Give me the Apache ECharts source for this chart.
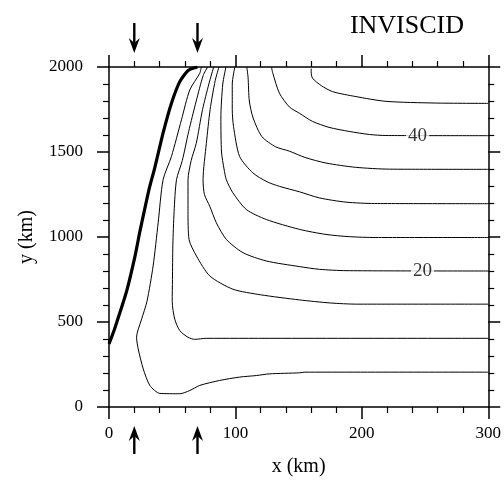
<!DOCTYPE html>
<html>
<head>
<meta charset="utf-8">
<script src="https://cdn.jsdelivr.net/npm/echarts@6/dist/echarts.min.js"></script>
<style>html,body{margin:0;padding:0;background:#fff;}#chart{width:504px;height:482px;}</style>
</head>
<body>
<div id="chart"></div>
<script>
// ---- data (x km, y km) ----
const titleText = 'INVISCID';
const xName = 'x (km)';
const yName = 'y (km)';
const xRange = [0, 300];
const yRange = [0, 2000];

// thick boundary line
const thickLine = [[0,371],[4,450],[8.7,557],[13.9,680],[20.5,885],[24.5,1035],[28.4,1170],[32,1290],[36.3,1410],[42.9,1615],[49.4,1787],[56,1914],[62.6,1980],[69.9,2000]];

// contour levels 5 .. 45
const contourLevels = [5,10,15,20,25,30,35,40,45];
const c05 = [[73,2000],[71.8,1963],[63.9,1865],[57.3,1689],[49.4,1474],[42.8,1337],[38.9,1084],[34.9,830],[30,620],[25.8,517],[21.8,410],[23.1,342],[27.1,224],[32.3,127],[40.2,80],[56,78],[63.9,97],[71.8,127],[87.5,156],[103.3,176],[116.5,185],[127,195],[150.6,201],[155,205],[300,205]];
const c10 = [[78,2000],[74.5,1950],[69,1800],[63,1620],[58,1450],[53.4,1337],[51.5,1150],[50.5,950],[50.2,750],[50,620],[52,517],[56,449],[62.5,410],[67.8,398],[77,404],[300,404]];
const c15 = [[82.8,2000],[79,1900],[74,1750],[69,1550],[65,1450],[62.5,1337],[62.5,1150],[63.3,986],[69.2,888],[79.7,771],[98,693],[120,660],[150.6,630],[175,612],[196,605],[300,605]];
const c20 = [[87,2000],[84,1920],[80,1750],[77,1550],[74.4,1337],[75.5,1250],[79.7,1181],[84.9,1084],[92.8,986],[105.9,908],[124.4,859],[150.6,826],[166.4,810],[187.5,802],[300,800]];
const c25 = [[92.5,2000],[90,1900],[88.5,1700],[89,1500],[91,1400],[92.8,1337],[98,1260],[108.6,1162],[124.4,1103],[150.6,1045],[171.7,1015],[190,1002],[211,997],[300,997]];
const c30 = [[99.5,2000],[97.5,1900],[97.5,1750],[98.5,1650],[103.3,1474],[113.8,1377],[125,1325],[134.8,1298],[150.6,1266],[166.4,1230],[187.5,1205],[210,1197],[300,1196]];
const c35 = [[109,2000],[110,1940],[111,1800],[114,1700],[121,1590],[132,1530],[142.7,1505],[155,1468],[171.7,1435],[195,1410],[222,1399],[300,1398]];
const c40 = [[128.5,2000],[129.6,1963],[134.8,1846],[142.7,1765],[150.6,1728],[161,1680],[174,1645],[190,1621],[206,1603],[219,1597],[300,1596]];
const c45 = [[160,1990],[159.9,1972],[161,1934],[168,1890],[176.9,1855],[195.3,1826],[219,1798],[258,1788],[300,1786]];
const contours = [c05,c10,c15,c20,c25,c30,c35,c40,c45];

// inline contour labels [x, y, text]
const contourLabels = [[248,800,'20'],[244,1594,'40']];

// arrows: x position and direction (1 = above the top axis pointing down, -1 = below the bottom axis pointing up)
const arrowX = [20, 70, 20, 70];
const arrowDir = [1, 1, -1, -1];

// ---- chart ----
const FONT = '"Liberation Serif", "Times New Roman", serif';
const chart = echarts.init(document.getElementById('chart'), null, {renderer: 'canvas'});

function axisCommon(showLabel) {
  return {
    type: 'value',
    axisLine: {show: true, onZero: false, lineStyle: {color: '#000', width: 1.5}},
    axisTick: {show: true, inside: false, length: 12, lineStyle: {color: '#000', width: 1.5}},
    minorTick: {show: true, splitNumber: 5, length: 6, lineStyle: {color: '#000', width: 1.2}},
    splitLine: {show: false},
    minorSplitLine: {show: false},
    axisLabel: {show: showLabel, color: '#000', fontFamily: FONT, fontSize: 17},
  };
}

const series = [];
contours.forEach((c, i) => {
  series.push({
    type: 'line', name: 'c' + contourLevels[i], data: c,
    showSymbol: false, symbol: 'none', smooth: 0.25, silent: true,
    lineStyle: {color: '#000', width: 1}, z: 2
  });
});
series.push({
  type: 'line', name: 'boundary', data: thickLine,
  showSymbol: false, symbol: 'none', smooth: 0.2, silent: true,
  lineStyle: {color: '#000', width: 3.2}, z: 3
});
series.push({
  type: 'scatter', data: contourLabels.map(d => ({value: [d[0], d[1]], name: d[2]})),
  symbolSize: 1, itemStyle: {color: 'rgba(0,0,0,0)'}, z: 5,
  label: {show: true, position: 'inside', formatter: p => p.name, color: '#000',
    fontFamily: FONT, fontSize: 19, backgroundColor: '#fff', padding: [0, 2]}
});
series.push({
  type: 'custom', z: 6, clip: false, silent: true,
  data: arrowX.map((x, i) => [x, arrowDir[i]]),
  renderItem: function (params, api) {
    const x = api.value(0), d = api.value(1);
    const p = api.coord([x, d > 0 ? yRange[1] : yRange[0]]);
    let tip, tail, s;
    if (d > 0) { tip = p[1] - 14; tail = p[1] - 44; s = -1; }
    else { tip = p[1] + 19; tail = p[1] + 47; s = 1; }
    const cx = p[0];
    return {
      type: 'group',
      children: [
        {type: 'line', shape: {x1: cx, y1: tail, x2: cx, y2: tip + s * 6},
          style: {stroke: '#000', lineWidth: 2.4}},
        {type: 'polygon', shape: {points: [[cx, tip], [cx - 5.5, tip + s * 15], [cx, tip + s * 10], [cx + 5.5, tip + s * 15]]},
          style: {fill: '#000'}}
      ]
    };
  }
});

const plainNum = v => String(v);

const option = {
  backgroundColor: '#fff',
  animation: false,
  title: {text: titleText, right: 35, top: 8,
    textStyle: {fontFamily: FONT, fontSize: 26, fontWeight: 'normal', color: '#000'}},
  grid: {left: 109, right: 15, top: 67, bottom: 74, containLabel: false},
  xAxis: [
    Object.assign(axisCommon(true), {min: xRange[0], max: xRange[1], interval: 100, position: 'bottom',
      name: xName, nameLocation: 'middle', nameGap: 50,
      nameTextStyle: {fontFamily: FONT, fontSize: 20, color: '#000'},
      axisLabel: {show: true, color: '#000', fontFamily: FONT, fontSize: 17, margin: 18, formatter: plainNum}}),
    Object.assign(axisCommon(false), {min: xRange[0], max: xRange[1], interval: 100, position: 'top'})
  ],
  yAxis: [
    Object.assign(axisCommon(true), {min: yRange[0], max: yRange[1], interval: 500, position: 'left',
      name: yName, nameLocation: 'middle', nameGap: 72,
      nameTextStyle: {fontFamily: FONT, fontSize: 20, color: '#000'},
      axisLabel: {show: true, color: '#000', fontFamily: FONT, fontSize: 17, margin: 26, formatter: plainNum}}),
    Object.assign(axisCommon(false), {min: yRange[0], max: yRange[1], interval: 500, position: 'right'})
  ],
  series: series
};
chart.setOption(option);
</script>
</body>
</html>
